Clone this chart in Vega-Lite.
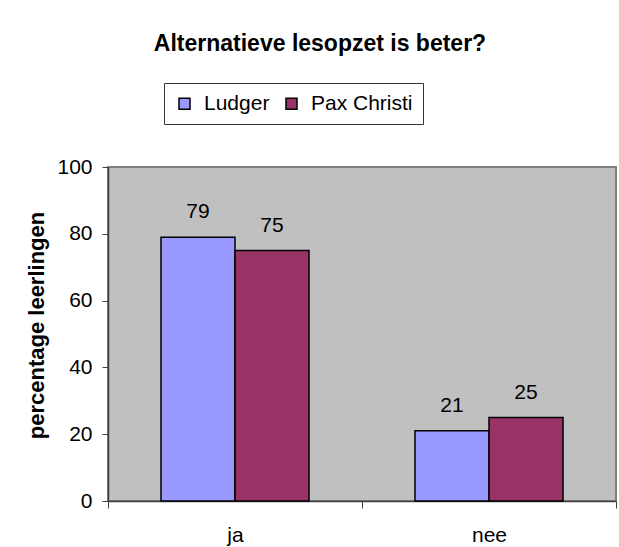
{
  "$schema": "https://vega.github.io/schema/vega-lite/v6.json",
  "width": 508,
  "height": 334,
  "autosize": "none",
  "padding": {"left": 108, "top": 167, "right": 3, "bottom": 46},
  "background": "white",
  "title": {
    "text": "Alternatieve lesopzet is beter?",
    "font": "Liberation Sans",
    "fontSize": 23,
    "fontWeight": "bold",
    "color": "black",
    "anchor": "middle",
    "frame": "group",
    "dx": -42,
    "baseline": "alphabetic",
    "offset": 9
  },
  "data": {
    "values": [
      {"category": "ja", "school": "Ludger", "value": 79},
      {"category": "ja", "school": "Pax Christi", "value": 75},
      {"category": "nee", "school": "Ludger", "value": 21},
      {"category": "nee", "school": "Pax Christi", "value": 25}
    ]
  },
  "encoding": {
    "x": {
      "field": "category",
      "type": "nominal",
      "sort": ["ja", "nee"],
      "scale": {"paddingInner": 0, "paddingOuter": 0},
      "axis": {
        "title": null,
        "labelAngle": 0,
        "labelFont": "Liberation Sans",
        "labelFontSize": 21,
        "labelColor": "black",
        "labelPadding": 16,
        "tickBand": "extent",
        "tickSize": 7,
        "tickColor": "#404040",
        "domainColor": "#404040",
        "domainWidth": 1.5
      }
    },
    "xOffset": {
      "field": "school",
      "type": "nominal",
      "sort": ["Ludger", "Pax Christi"],
      "scale": {"paddingInner": 0, "paddingOuter": 0.716}
    },
    "y": {
      "field": "value",
      "type": "quantitative",
      "scale": {"domain": [0, 100], "nice": false},
      "axis": {
        "title": "percentage leerlingen",
        "titleFont": "Liberation Sans",
        "titleFontSize": 22,
        "titleFontWeight": "bold",
        "titleColor": "black",
        "titlePadding": 8,
        "titleY": 158,
        "values": [0, 20, 40, 60, 80, 100],
        "grid": false,
        "labelFont": "Liberation Sans",
        "labelFontSize": 21,
        "labelColor": "black",
        "labelPadding": 10,
        "tickSize": 6,
        "tickColor": "#404040",
        "domainColor": "#404040",
        "domainWidth": 1.5
      }
    }
  },
  "layer": [
    {
      "mark": {"type": "bar", "stroke": "black", "strokeWidth": 1.5},
      "encoding": {
        "color": {
          "field": "school",
          "type": "nominal",
          "scale": {"domain": ["Ludger", "Pax Christi"], "range": ["#9999FF", "#993366"]},
          "legend": {
            "orient": "none",
            "legendX": 56,
            "legendY": -84,
            "direction": "horizontal",
            "title": null,
            "strokeColor": "#333333",
            "fillColor": "white",
            "padding": 10,
            "symbolType": "square",
            "symbolSize": 121,
            "symbolStrokeColor": "black",
            "symbolStrokeWidth": 1.5,
            "symbolOpacity": 1,
            "labelFont": "Liberation Sans",
            "labelFontSize": 21,
            "labelColor": "black",
            "labelOffset": 9,
            "columnPadding": 11
          }
        }
      }
    },
    {
      "mark": {"type": "text", "font": "Liberation Sans", "fontSize": 21, "color": "black", "baseline": "alphabetic", "dy": -19},
      "encoding": {
        "text": {"field": "value", "type": "quantitative"}
      }
    }
  ],
  "config": {
    "view": {"fill": "#C0C0C0", "stroke": "#808080", "strokeWidth": 2}
  }
}
